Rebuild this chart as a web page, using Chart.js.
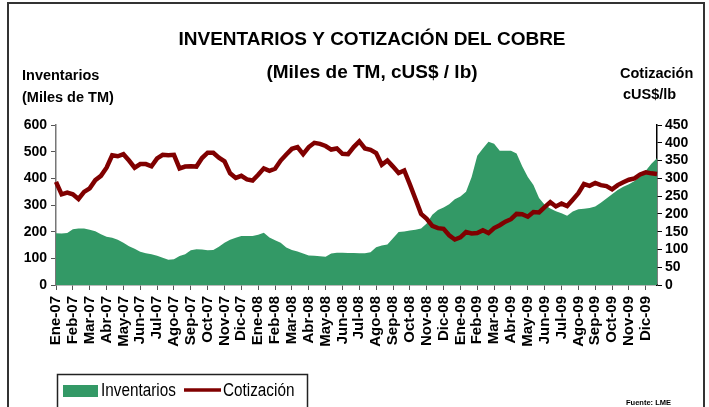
<!DOCTYPE html>
<html>
<head>
<meta charset="utf-8">
<script src="https://cdn.jsdelivr.net/npm/chart.js@4.4.1/dist/chart.umd.min.js"></script>
<style>
  html, body { margin: 0; padding: 0; background: #fff; }
  canvas { display: block; }
</style>
</head>
<body>
<canvas id="cobreChart" width="709" height="407"></canvas>
<script>
// meses del eje (una etiqueta por mes, tres lecturas por mes)
const meses = ['Ene-07', 'Feb-07', 'Mar-07', 'Abr-07', 'May-07', 'Jun-07', 'Jul-07', 'Ago-07', 'Sep-07', 'Oct-07', 'Nov-07', 'Dic-07',
               'Ene-08', 'Feb-08', 'Mar-08', 'Abr-08', 'May-08', 'Jun-08', 'Jul-08', 'Ago-08', 'Sep-08', 'Oct-08', 'Nov-08', 'Dic-08',
               'Ene-09', 'Feb-09', 'Mar-09', 'Abr-09', 'May-09', 'Jun-09', 'Jul-09', 'Ago-09', 'Sep-09', 'Oct-09', 'Nov-09', 'Dic-09'];

// Inventarios LME (miles de TM), lecturas cada ~10 dias
const inventarios = [194, 193, 195, 209, 212, 212, 207, 202, 190, 181, 177, 170,
                     158, 145, 136, 125, 119, 115, 110, 102, 95, 97, 109, 115,
                     130, 134, 133, 130, 131, 143, 158, 170, 177, 184, 184, 184,
                     188, 196, 178, 168, 158, 141, 131, 126, 118, 111, 110, 108,
                     106, 118, 121, 121, 120, 120, 119, 119, 123, 142, 148, 152,
                     175, 199, 201, 204, 207, 212, 231, 263, 281, 291, 303, 322,
                     332, 350, 405, 485, 512, 537, 530, 503, 503, 503, 493, 445,
                     405, 375, 326, 301, 287, 277, 269, 260, 276, 284, 286, 289,
                     294, 308, 324, 340, 356, 368, 378, 390, 406, 428, 455, 475];

// Cotizacion del cobre (cUS$/lb)
const cotizacion = [290, 255, 260, 255, 242, 262, 272, 295, 307, 330, 365, 362,
                    368, 350, 330, 340, 340, 334, 356, 366, 365, 366, 328, 333,
                    334, 333, 357, 372, 372, 358, 348, 314, 301, 307, 297, 294,
                    310, 328, 321, 327, 350, 367, 383, 388, 368, 388, 400, 397,
                    391, 381, 384, 369, 368, 388, 404, 384, 380, 371, 338, 350,
                    333, 315, 322, 283, 242, 200, 186, 166, 160, 158, 140, 128,
                    134, 149, 145, 146, 154, 146, 160, 168, 178, 185, 200, 199,
                    192, 205, 204, 219, 233, 221, 229, 222, 240, 258, 284, 279,
                    287, 281, 278, 269, 281, 289, 296, 300, 311, 317, 314, 312];

const ticksInventarios = [0, 100, 200, 300, 400, 500, 600];
const ticksCotizacion = [0, 50, 100, 150, 200, 250, 300, 350, 400, 450];

const etiquetas = [];
meses.forEach(function(m) { etiquetas.push(m, '', ''); });

const FUENTE = '"Liberation Sans", Arial, sans-serif';
const VERDE = '#339966';
const GRANATE = '#800000';

// texto estrecho (tipo Arial Narrow) escalando en horizontal
function textoEstrecho(ctx, texto, x, y, escala) {
    ctx.save();
    ctx.translate(x, y);
    ctx.scale(escala, 1);
    ctx.fillText(texto, 0, 0);
    ctx.restore();
}

// fondo, marco, titulos y leyenda
const marcoPlugin = {
    id: 'marco',
    beforeDraw(chart) {
        const ctx = chart.ctx;
        ctx.save();
        ctx.fillStyle = '#fff';
        ctx.fillRect(0, 0, chart.width, chart.height);
        ctx.restore();
    },
    afterDraw(chart) {
        const ctx = chart.ctx;
        ctx.save();
        ctx.strokeStyle = '#333';
        ctx.lineWidth = 2;
        ctx.strokeRect(8, 3, 696, 440);

        ctx.fillStyle = '#000';
        ctx.textAlign = 'center';
        ctx.textBaseline = 'middle';
        ctx.font = 'bold 19px ' + FUENTE;
        ctx.fillText('INVENTARIOS Y COTIZACIÓN DEL COBRE', 372, 40);
        ctx.fillText('(Miles de TM, cUS$ / lb)', 372, 73);

        ctx.textAlign = 'left';
        ctx.font = 'bold 14.5px ' + FUENTE;
        ctx.fillText('Inventarios', 22, 76);
        ctx.fillText('(Miles de TM)', 22, 98);
        ctx.fillText('Cotización', 620, 74);
        ctx.fillText('cUS$/lb', 623, 95);

        ctx.font = 'bold 7.5px ' + FUENTE;
        ctx.fillText('Fuente: LME', 626, 403);

        // leyenda
        const ds = chart.data.datasets;
        ctx.strokeStyle = '#222';
        ctx.lineWidth = 1.5;
        ctx.strokeRect(57.5, 374.5, 250, 50);
        ctx.fillStyle = ds[1].backgroundColor;
        ctx.fillRect(63, 385, 35, 12);
        ctx.strokeStyle = ds[0].borderColor;
        ctx.lineWidth = 3.5;
        ctx.beginPath();
        ctx.moveTo(184, 390);
        ctx.lineTo(221, 390);
        ctx.stroke();
        ctx.fillStyle = '#000';
        ctx.font = '18px ' + FUENTE;
        textoEstrecho(ctx, ds[1].label, 101, 391, 0.85);
        textoEstrecho(ctx, ds[0].label, 223, 391, 0.85);
        ctx.restore();
    }
};

try {
    const ctx = document.getElementById('cobreChart').getContext('2d');
    new Chart(ctx, {
        type: 'line',
        data: {
            labels: etiquetas,
            datasets: [{
                label: 'Cotización',
                data: cotizacion,
                yAxisID: 'yCot',
                borderColor: GRANATE,
                borderWidth: 4.5,
                pointRadius: 0,
                tension: 0,
                fill: false,
                order: 1
            }, {
                label: 'Inventarios',
                data: inventarios,
                yAxisID: 'yInv',
                backgroundColor: VERDE,
                borderColor: VERDE,
                borderWidth: 0,
                pointRadius: 0,
                tension: 0,
                fill: 'origin',
                order: 2
            }]
        },
        options: {
            responsive: false,
            animation: false,
            layout: { padding: { top: 125, left: 0, right: 0, bottom: 0 } },
            plugins: {
                legend: { display: false },
                title: { display: false },
                tooltip: { enabled: false }
            },
            scales: {
                x: {
                    type: 'category',
                    offset: false,
                    afterFit: function(scale) { scale.height = 122; },
                    border: { display: true, color: '#777', width: 1.5 },
                    grid: {
                        drawOnChartArea: false,
                        drawTicks: true,
                        tickLength: 5,
                        color: function(c) { return etiquetas[c.index] ? '#555' : 'rgba(0,0,0,0)'; }
                    },
                    ticks: {
                        autoSkip: false,
                        maxRotation: 90,
                        minRotation: 90,
                        padding: 6,
                        color: '#000',
                        font: { family: FUENTE, size: 15, weight: 'bold' },
                        callback: function(value, index) { return etiquetas[index]; }
                    }
                },
                yInv: {
                    position: 'left',
                    min: 0,
                    max: 600,
                    afterFit: function(scale) { scale.width = 56; },
                    afterBuildTicks: function(scale) { scale.ticks = ticksInventarios.map(v => ({ value: v })); },
                    border: { display: true, color: '#777', width: 1.5 },
                    grid: { drawOnChartArea: false, tickLength: 5, color: '#555' },
                    ticks: {
                        autoSkip: false,
                        padding: 4,
                        color: '#000',
                        font: { family: FUENTE, size: 14, weight: 'bold' }
                    }
                },
                yCot: {
                    position: 'right',
                    min: 0,
                    max: 450,
                    afterFit: function(scale) { scale.width = 52; },
                    afterBuildTicks: function(scale) { scale.ticks = ticksCotizacion.map(v => ({ value: v })); },
                    border: { display: true, color: '#000', width: 1.5 },
                    grid: { drawOnChartArea: false, tickLength: 5, color: '#000' },
                    ticks: {
                        autoSkip: false,
                        padding: 3,
                        color: '#000',
                        font: { family: FUENTE, size: 14, weight: 'bold' }
                    }
                }
            }
        },
        plugins: [marcoPlugin]
    });
} catch (error) {
    console.error('Error al crear el grafico:', error);
}
</script>
</body>
</html>
